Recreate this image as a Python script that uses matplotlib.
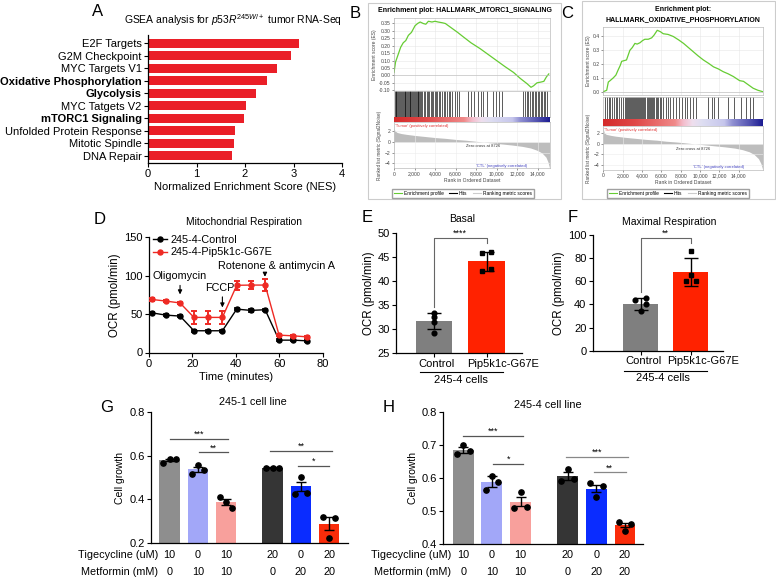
import matplotlib
matplotlib.use('Agg')
import matplotlib.pyplot as plt
import numpy as np
from matplotlib.colors import LinearSegmentedColormap
from matplotlib.lines import Line2D
from matplotlib.patches import Rectangle
import matplotlib.transforms as mtransforms

plt.rcParams['font.family'] = ['Liberation Sans', 'DejaVu Sans']
plt.rcParams['mathtext.fontset'] = 'custom'
plt.rcParams['mathtext.rm'] = 'Liberation Sans'
plt.rcParams['mathtext.it'] = 'Liberation Sans:italic'
plt.rcParams['axes.linewidth'] = 0.9

# ---------------- data ----------------
# A: GSEA summary
gsea_sets = ['E2F Targets', 'G2M Checkpoint', 'MYC Targets V1', 'Oxidative Phosphorylation',
             'Glycolysis', 'MYC Tatgets V2', 'mTORC1 Signaling', 'Unfolded Protein Response',
             'Mitotic Spindle', 'DNA Repair']
gsea_nes = [3.12, 2.95, 2.67, 2.45, 2.22, 2.02, 1.97, 1.80, 1.77, 1.74]
bold_sets = ['Oxidative Phosphorylation', 'Glycolysis', 'mTORC1 Signaling']

# B: mTORC1 enrichment plot
mtor_es_rank = [0, 150, 400, 650, 900, 1150, 1400, 1700, 2050, 2300, 2550, 2850, 3100, 3350, 3700,
                4000, 4300, 4700, 5000, 5600, 6200, 6750, 7500, 8400, 9200, 10000, 10800, 11650,
                12300, 12950, 13350, 13600, 13930, 14300, 14600, 14850, 15080]
mtor_es = [0.02, 0.09, 0.14, 0.19, 0.22, 0.235, 0.27, 0.29, 0.335, 0.35, 0.36, 0.35, 0.345, 0.365,
           0.36, 0.365, 0.36, 0.355, 0.35, 0.32, 0.29, 0.26, 0.22, 0.18, 0.14, 0.10, 0.06, 0.02,
           -0.02, -0.055, -0.08, -0.07, -0.05, -0.045, -0.04, -0.01, 0.01]
mtor_hits = [60, 150, 230, 330, 400, 520, 610, 700, 760, 880, 950, 1040, 1120, 1200, 1290, 1360,
             1450, 1530, 1600, 1700, 1780, 1850, 1950, 2030, 2110, 2200, 2290, 2380, 2450, 2560,
             2640, 2740, 2900, 3050, 3180, 3300, 3420, 3560, 3700, 3820, 3950, 4100, 4230, 4380,
             4520, 4700, 4850, 5000, 5180, 5350, 5500, 5700, 5900, 6100, 6300, 7250, 7500, 7800,
             8150, 8500, 8700, 9100, 9600, 9900, 10200, 10500, 12600, 12800, 12950, 13100, 13250,
             13400, 13550, 13700, 13850, 14000, 14150, 14300, 14450, 14600, 14750, 14900]
mtor_rk_rank = [0, 100, 300, 700, 1200, 2000, 3000, 4000, 5000, 6000, 7000, 8000, 8726, 9500,
                10500, 11500, 12500, 13300, 13900, 14400, 14800, 15000, 15150]
mtor_rk = [2.6, 2.1, 1.8, 1.6, 1.45, 1.25, 1.05, 0.85, 0.7, 0.5, 0.35, 0.15, 0.0, -0.15, -0.35,
           -0.55, -0.8, -1.1, -1.5, -2.0, -2.8, -3.7, -4.8]

# C: oxidative phosphorylation enrichment plot
ox_es_rank = [0, 350, 520, 700, 1030, 1300, 1550, 1750, 1900, 2150, 2400, 2600, 2750, 3000, 3270,
              3500, 3800, 4050, 4300, 4650, 5000, 5250, 5580, 5900, 6200, 6700, 7240, 7800, 8300,
              8800, 9300, 9800, 10350, 10900, 11400, 11900, 12400, 12900, 13450, 14100, 14500,
              14800, 15500, 16000, 16500]
ox_es = [0.0, 0.01, 0.07, 0.08, 0.10, 0.12, 0.16, 0.19, 0.22, 0.225, 0.23, 0.27, 0.30, 0.32, 0.35,
         0.345, 0.355, 0.37, 0.38, 0.38, 0.39, 0.41, 0.445, 0.435, 0.42, 0.415, 0.40, 0.375, 0.35,
         0.32, 0.29, 0.26, 0.23, 0.205, 0.18, 0.165, 0.145, 0.13, 0.11, 0.08, 0.075, 0.06, 0.025,
         0.01, 0.0]
ox_hits = [170, 350, 560, 700, 900, 1100, 1300, 1450, 1650, 1850, 2000, 2200, 2350, 2450, 2550,
           2640, 2750, 2860, 2950, 3040, 3150, 3260, 3340, 3450, 3560, 3650, 3780, 3890, 4000,
           4090, 4250, 4350, 4480, 4590, 4700, 4810, 4900, 5000, 5120, 5250, 5400, 5550, 5700,
           5850, 6000, 6150, 6450, 6700, 6950, 7250, 7500, 7800, 8100, 8400, 8700, 9000, 9300,
           9600, 10800, 11200, 11500, 11900, 12900, 13500, 14200, 14800, 15200, 15450]
ox_rk_rank = [0, 100, 300, 800, 1300, 2200, 3300, 4400, 5500, 6500, 7600, 8700, 9450, 10300,
              11400, 12500, 13600, 14400, 15100, 15600, 16050, 16300, 16480]
ox_rk = [2.8, 2.1, 1.8, 1.6, 1.45, 1.25, 1.05, 0.85, 0.7, 0.5, 0.35, 0.15, 0.0, -0.15, -0.35,
         -0.55, -0.8, -1.1, -1.5, -2.0, -2.8, -3.7, -4.8]

# D: Seahorse trace
ocr_time = [1.2, 7.7, 14.3, 20.7, 27.3, 33.8, 40.4, 46.9, 53.5, 59.9, 66.5, 72.6]
ocr_ctrl = [51.7, 48.7, 47.4, 28.3, 28.3, 28.3, 56.5, 54.8, 55.7, 16.1, 16.1, 15.2]
ocr_ctrl_sd = [1, 1, 1, 1, 1, 1, 1.5, 1.5, 1.5, 1, 1, 1]
ocr_mut = [69.1, 67.0, 64.5, 45.7, 45.7, 45.7, 87.5, 87.8, 87.8, 22.6, 21.7, 20.4]
ocr_mut_sd = [1.5, 1.5, 1.5, 8.5, 8.5, 8.5, 5.5, 5.5, 7.5, 1, 1, 1.5]

# E / F
cell_groups = ['Control', 'Pip5k1c-G67E']
basal_mean = [31.7, 44.1]
basal_sd = [1.75, 2.0]
basal_ctrl_pts = [33.3, 32.5, 31.5, 29.3]
basal_mut_pts = [45.7, 46.0, 42.0, 42.4]
max_mean = [40.5, 68.0]
max_sd = [5.0, 12.4]
max_ctrl_pts = [43.8, 45.3, 40.4, 34.3]
max_mut_pts = [86.0, 65.0, 60.0, 60.0]

# G / H
tige = ['10', '0', '10', '20', '0', '20']
metf = ['0', '10', '10', '0', '20', '20']
g_mean = [0.580, 0.537, 0.388, 0.546, 0.460, 0.287]
g_sem = [0.006, 0.012, 0.014, 0.002, 0.02, 0.03]
g_pts = [[0.565, 0.585, 0.585], [0.517, 0.559, 0.536], [0.412, 0.389, 0.359],
         [0.545, 0.546, 0.546], [0.424, 0.501, 0.430], [0.320, 0.220, 0.313]]
h_mean = [0.687, 0.590, 0.529, 0.607, 0.569, 0.458]
h_sem = [0.009, 0.016, 0.013, 0.012, 0.012, 0.007]
h_pts = [[0.675, 0.700, 0.682], [0.565, 0.607, 0.590], [0.510, 0.559, 0.513],
         [0.592, 0.628, 0.598], [0.585, 0.542, 0.577], [0.467, 0.441, 0.461]]

# ---------------- figure ----------------
W, H = 776, 582
fig = plt.figure(figsize=(7.76, 5.82), dpi=100)


def add_ax(l, t, r, b):
    return fig.add_axes([l / W, 1 - b / H, (r - l) / W, (b - t) / H])


def ftext(x, y, s, **kw):
    fig.text(x / W, 1 - y / H, s, **kw)


def fline(xs, ys, **kw):
    fig.add_artist(Line2D([x / W for x in xs], [1 - y / H for y in ys], **kw))


def clean(ax):
    ax.spines['top'].set_visible(False)
    ax.spines['right'].set_visible(False)


# ---- A ----
axA = add_ax(148, 35, 342, 163)
ypos = np.arange(len(gsea_sets))
axA.barh(ypos, gsea_nes, height=0.72, color='#ea1f28')
axA.set_ylim(len(gsea_sets) - 0.42, -0.66)
axA.set_xlim(0, 4)
axA.set_yticks(ypos)
axA.set_yticklabels(gsea_sets)
for lab in axA.get_yticklabels():
    if lab.get_text() in bold_sets:
        lab.set_fontweight('bold')
axA.set_xticks([0, 1, 2, 3, 4])
axA.tick_params(labelsize=8, length=3, pad=1.5)
axA.set_xlabel('Normalized Enrichment Score (NES)', fontsize=8, labelpad=2)
clean(axA)
ftext(233, 20, 'GSEA analysis for $\\mathit{p53R}^{\\mathit{245W/+}}$ tumor RNA-Seq',
      ha='center', va='center', fontsize=7.5)
ftext(98, 11, 'A', fontsize=12, ha='center', va='center')

# ---- B / C : enrichment plots ----
gsea_cmap = LinearSegmentedColormap.from_list('gsea', [
    (0.0, '#d42a2a'), (0.2, '#e04848'), (0.45, '#f08a8a'), (0.5, '#f4bccb'),
    (0.56, '#efdfee'), (0.62, '#dedef2'), (0.76, '#c6c6ec'), (0.81, '#9090d2'),
    (0.92, '#5252b0'), (1.0, '#1c1c92')])


def draw_gsea(title, title_xy, frame, es_box, hit_box, cb_box, rk_box, xmax,
              es_x, es_y, es_lim, es_ticks, es_fmt, hits, rk_x, rk_y, rk_lim,
              tumor_xy, zero_xy, ctl_xy, leg_c):
    fx0, fy0, fx1, fy1 = frame
    fig.patches.append(Rectangle((fx0 / W, 1 - fy1 / H), (fx1 - fx0) / W, (fy1 - fy0) / H,
                                 transform=fig.transFigure, fill=False, ec='#cccccc', lw=0.8))
    ftext(title_xy[0], title_xy[1], title, ha='center', va='center', fontsize=5,
          fontweight='bold', linespacing=1.5)
    tick_kw = dict(labelsize=3.6, length=1.5, width=0.4, colors='#444444', pad=1)

    es = add_ax(*es_box)
    es.plot(es_x, es_y, color='#66cc33', lw=0.9)
    es.set_xlim(0, xmax)
    es.set_ylim(*es_lim)
    es.set_yticks(es_ticks)
    es.set_yticklabels([es_fmt % t for t in es_ticks])
    es.set_xticks(np.arange(0, 14001, 2000))
    es.set_xticklabels([])
    es.grid(color='#e6e6e6', lw=0.4)
    es.axhline(0, color='#bbbbbb', lw=0.4)
    es.tick_params(**tick_kw)
    es.tick_params(axis='x', length=0)
    for s in es.spines.values():
        s.set_color('#aaaaaa')
        s.set_linewidth(0.4)
    es.set_ylabel('Enrichment score (ES)', fontsize=3.6, color='#444444', labelpad=1.5)

    ht = add_ax(*hit_box)
    ht.vlines(hits, 0, 1, color='black', lw=0.45)
    ht.set_xlim(0, xmax)
    ht.set_ylim(0, 1)
    ht.set_xticks([])
    ht.set_yticks([])
    for s in ht.spines.values():
        s.set_color('#aaaaaa')
        s.set_linewidth(0.4)

    cb = add_ax(*cb_box)
    cb.imshow(np.linspace(0, 1, 256)[None, :], aspect='auto', cmap=gsea_cmap,
              extent=(0, xmax, 0, 1))
    cb.set_xlim(0, xmax)
    cb.axis('off')

    rk = add_ax(*rk_box)
    rk.fill_between(rk_x, 0, rk_y, color='#bdbdbd', lw=0)
    rk.set_xlim(0, xmax)
    rk.set_ylim(*rk_lim)
    rk.set_yticks([2, 0, -2, -4])
    rk.set_xticks(np.arange(0, 14001, 2000))
    rk.set_xticklabels(['{:,}'.format(v) for v in range(0, 14001, 2000)])
    rk.grid(color='#ececec', lw=0.4)
    rk.tick_params(**tick_kw)
    for s in rk.spines.values():
        s.set_color('#aaaaaa')
        s.set_linewidth(0.4)
    rk.set_xlabel('Rank in Ordered Dataset', fontsize=3.6, color='#444444', labelpad=1)
    rk.set_ylabel('Ranked list metric (Signal2Noise)', fontsize=3.3, color='#444444',
                  labelpad=2)
    rk.text(tumor_xy[0], tumor_xy[1], "'Tumor' (positively correlated)", fontsize=3,
            color='#e03030', va='center')
    rk.text(zero_xy[0], zero_xy[1], 'Zero cross at 8726', fontsize=3, color='#333333',
            ha='center', va='center')
    rk.text(ctl_xy[0], ctl_xy[1], "'CTL' (negatively correlated)", fontsize=3,
            color='#4040c0', ha='center', va='center')

    handles = [Line2D([], [], color='#66cc33', lw=0.8), Line2D([], [], color='black', lw=0.8),
               Line2D([], [], color='#cccccc', lw=0.8)]
    fig.legend(handles, ['Enrichment profile', 'Hits', 'Ranking metric scores'],
               loc='center', bbox_to_anchor=(leg_c[0] / W, 1 - leg_c[1] / H), ncol=3,
               fontsize=3.5, frameon=True, fancybox=False, edgecolor='#888888',
               handlelength=1.6, columnspacing=1.2, borderpad=0.35, handletextpad=0.4)


draw_gsea('Enrichment plot: HALLMARK_MTORC1_SIGNALING', (465, 11), (368, 3, 561, 199),
          (394, 18.3, 550, 91), (394, 91, 550, 116.7), (394, 116.7, 550, 122.3),
          (394, 122.3, 550, 168.3), 15200,
          mtor_es_rank, mtor_es, (-0.105, 0.385), np.arange(-0.10, 0.351, 0.05), '%.2f',
          mtor_hits, mtor_rk_rank, mtor_rk, (-4.9, 3.7),
          (100, 3.0), (8726, -0.7), (10500, -4.4), (463, 193.7))
ftext(355, 13, 'B', fontsize=12, ha='center', va='center')

draw_gsea('Enrichment plot:\nHALLMARK_OXIDATIVE_PHOSPHORYLATION', (683, 14.5), (582, 0.5, 775, 199),
          (603.3, 26.7, 763.3, 95), (603.3, 96.5, 763.3, 119.3), (603.3, 119.3, 763.3, 126),
          (603.3, 126, 763.3, 170), 16550,
          ox_es_rank, ox_es, (-0.024, 0.471), [0.0, 0.1, 0.2, 0.3, 0.4], '%.1f',
          ox_hits, ox_rk_rank, ox_rk, (-4.94, 3.38),
          (100, 2.6), (9300, -0.9), (11900, -4.45), (678, 193.7))
ftext(567, 13, 'C', fontsize=12, ha='center', va='center')

# ---- D ----
RED = '#ee2a24'
axD = add_ax(149, 237.3, 322.7, 352.5)
axD.errorbar(ocr_time, ocr_ctrl, yerr=ocr_ctrl_sd, color='black', marker='o', ms=3.6, lw=1,
             capsize=2.4, elinewidth=1.2, capthick=1.2, zorder=3)
axD.errorbar(ocr_time, ocr_mut, yerr=ocr_mut_sd, color=RED, marker='o', ms=3.6, lw=1,
             capsize=2.4, elinewidth=1.4, capthick=1.4, zorder=4)
axD.set_xlim(0, 80)
axD.set_ylim(0, 150)
axD.set_xticks([0, 20, 40, 60, 80])
axD.set_yticks([0, 50, 100, 150])
axD.tick_params(labelsize=8, length=3, pad=1.5)
axD.set_xlabel('Time (minutes)', fontsize=8, labelpad=2)
axD.set_ylabel('OCR (pmol/min)', fontsize=8.3, labelpad=2)
clean(axD)
legD = [Line2D([], [], color='black', marker='o', ms=3.6, lw=1),
        Line2D([], [], color=RED, marker='o', ms=3.6, lw=1)]
axD.legend(legD, ['245-4-Control', '245-4-Pip5k1c-G67E'], loc='upper left',
           bbox_to_anchor=(0.0, 1.06), frameon=False, fontsize=7.8, handlelength=1.3,
           handletextpad=0.3, borderaxespad=0, labelspacing=0.25)
arrow = dict(arrowstyle='-|>', color='black', lw=0.8, mutation_scale=6)
axD.annotate('', xy=(14.3, 72), xytext=(14.3, 91), arrowprops=arrow)
axD.text(14.3, 100, 'Oligomycin', fontsize=7.8, ha='center', va='center')
axD.annotate('', xy=(33.8, 55), xytext=(33.8, 76), arrowprops=arrow)
axD.text(32.7, 84, 'FCCP', fontsize=7.8, ha='center', va='center')
axD.annotate('', xy=(53.4, 95), xytext=(53.4, 106), arrowprops=arrow)
axD.text(58.8, 112, 'Rotenone & antimycin A', fontsize=7.8, ha='center', va='center',
         clip_on=False)
ftext(244, 222, 'Mitochondrial Respiration', fontsize=7.4, ha='center', va='center')
ftext(100, 219, 'D', fontsize=12, ha='center', va='center')

# ---- E / F ----
GRAY = '#7f7f7f'
ORED = '#ff2200'


def resp_panel(box, xlim, ylim, yticks, mean, sd, ctrl_pts, ctrl_dx, mut_pts, mut_dx,
               br, stars, label_shift, title, title_xy, letter_xy, under):
    ax = add_ax(*box)
    ax.bar([0, 1], mean, width=0.69, color=[GRAY, ORED], zorder=1)
    ax.errorbar([0, 1], mean, yerr=sd, fmt='none', ecolor='black', elinewidth=1,
                capsize=5, capthick=1, zorder=3)
    ax.plot(np.array(ctrl_dx), ctrl_pts, 'o', color='black', ms=3.4, zorder=4, clip_on=False)
    ax.plot(1 + np.array(mut_dx), mut_pts, 's', color='black', ms=3.4, zorder=4, clip_on=False)
    ax.set_xlim(*xlim)
    ax.set_ylim(*ylim)
    ax.set_yticks(yticks)
    ax.set_xticks([0, 1])
    ax.set_xticklabels(cell_groups)
    ax.tick_params(labelsize=8, length=3, pad=1.5)
    ax.tick_params(axis='x', pad=1)
    labs = ax.get_xticklabels()
    for lab, dx in zip(labs, label_shift):
        lab.set_transform(lab.get_transform() +
                          mtransforms.ScaledTranslation(dx / 100, 0, fig.dpi_scale_trans))
    ax.set_ylabel('OCR (pmol/min)', fontsize=8.3, labelpad=2)
    clean(ax)
    y_top, y_left, y_right = br
    ax.plot([0, 0, 1, 1], [y_left, y_top, y_top, y_right], color='#666666', lw=0.8,
            clip_on=False)
    ax.text(0.5, y_top, stars, ha='center', va='bottom', fontsize=6.5)
    ftext(title_xy[0], title_xy[1], title, fontsize=7.5, ha='center', va='center')
    ftext(letter_xy[0], letter_xy[1], letter_xy[2], fontsize=12, ha='center', va='center')
    x0, x1, yl, tx, ty = under
    fline([x0, x1], [yl, yl], color='black', lw=0.8)
    ftext(tx, ty, '245-4 cells', fontsize=8, ha='center', va='center')
    return ax


resp_panel((396, 232.7, 522, 353.3), (-0.72, 1.67), (25, 50), [25, 30, 35, 40, 45, 50],
           basal_mean, basal_sd, basal_ctrl_pts, [0, 0, 0, 0], basal_mut_pts,
           [-0.095, 0.076, -0.095, 0.076], (48.9, 34.7, 47.9), '****', (3, 16),
           'Basal', (462, 219), (367, 218, 'E'), (420, 503, 372, 461, 380))
resp_panel((592.7, 235, 723, 350.7), (-0.954, 1.646), (0, 100), [0, 20, 40, 60, 80, 100],
           max_mean, max_sd, max_ctrl_pts, [-0.1, 0.1, 0.1, 0], max_mut_pts,
           [0, 0, -0.1, 0.1], (97.4, 51, 93), '**', (3, 12),
           'Maximal Respiration', (669, 222), (573, 218, 'F'), (624, 707, 371, 663, 378))

# ---- G / H ----
bar_cols = ['#8e8e8e', '#a2a7f8', '#f8a09c', '#353535', '#0a2cff', '#fa2c0a']
pos = [0, 1, 2, 3.65, 4.65, 5.65]
jit = [-0.22, 0, 0.22]


def growth_panel(box, xlim, ylim, yticks, mean, sem, pts, sig, title, title_xy, letter_xy,
                 row_x):
    ax = add_ax(*box)
    ax.bar(pos, mean, width=0.73, color=bar_cols, zorder=1)
    ax.errorbar(pos, mean, yerr=sem, fmt='none', ecolor='black', elinewidth=1, capsize=3.5,
                capthick=1, zorder=3)
    for p, vals in zip(pos, pts):
        ax.plot([p + j for j in jit], vals, 'o', color='black', ms=3.8, zorder=4)
    ax.set_xlim(*xlim)
    ax.set_ylim(*ylim)
    ax.set_yticks(yticks)
    ax.set_yticklabels(['%.1f' % t for t in yticks])
    ax.set_xticks([])
    ax.tick_params(labelsize=8, length=3, pad=1.5)
    ax.set_ylabel('Cell growth', fontsize=7.5, labelpad=3)
    clean(ax)
    for x0, x1, y, s, c in sig:
        ax.plot([x0, x1], [y, y], color=c, lw=0.9, clip_on=False)
        ax.text((x0 + x1) / 2, y, s, ha='center', va='bottom', fontsize=6.5)
    tr = mtransforms.blended_transform_factory(ax.transData, fig.transFigure)
    for p, a, b in zip(pos, tige, metf):
        ax.text(p, 1 - 555 / H, a, transform=tr, ha='center', va='center', fontsize=7.8)
        ax.text(p, 1 - 571.7 / H, b, transform=tr, ha='center', va='center', fontsize=7.8)
    ftext(row_x, 555, 'Tigecycline (uM)', ha='right', va='center', fontsize=7.8)
    ftext(row_x, 571.7, 'Metformin (mM)', ha='right', va='center', fontsize=7.8)
    ftext(title_xy[0], title_xy[1], title, fontsize=7.8, ha='center', va='center')
    ftext(letter_xy[0], letter_xy[1], letter_xy[2], fontsize=12, ha='center', va='center')


growth_panel((151, 412.3, 347.7, 542.7), (-0.66, 6.31), (0.2, 0.8), [0.2, 0.4, 0.6, 0.8],
             g_mean, g_sem, g_pts,
             [(0, 2.06, 0.678, '***', '#555555'), (1.04, 2.06, 0.616, '**', '#555555'),
              (3.56, 5.74, 0.623, '**', '#555555'), (4.54, 5.66, 0.554, '*', '#555555')],
             '245-1 cell line', (253, 402), (107, 407, 'G'), 158)
growth_panel((443.3, 412.3, 643.3, 544.3), (-0.7, 6.29), (0.4, 0.8), [0.4, 0.5, 0.6, 0.7, 0.8],
             h_mean, h_sem, h_pts,
             [(-0.02, 2.08, 0.728, '***', '#555555'), (1.05, 2.08, 0.643, '*', '#555555'),
              (3.58, 5.77, 0.664, '***', '#888888'), (4.55, 5.69, 0.618, '**', '#888888')],
             '245-4 cell line', (548, 405), (389, 407, 'H'), 451)

fig.savefig('out.png', dpi=100)
